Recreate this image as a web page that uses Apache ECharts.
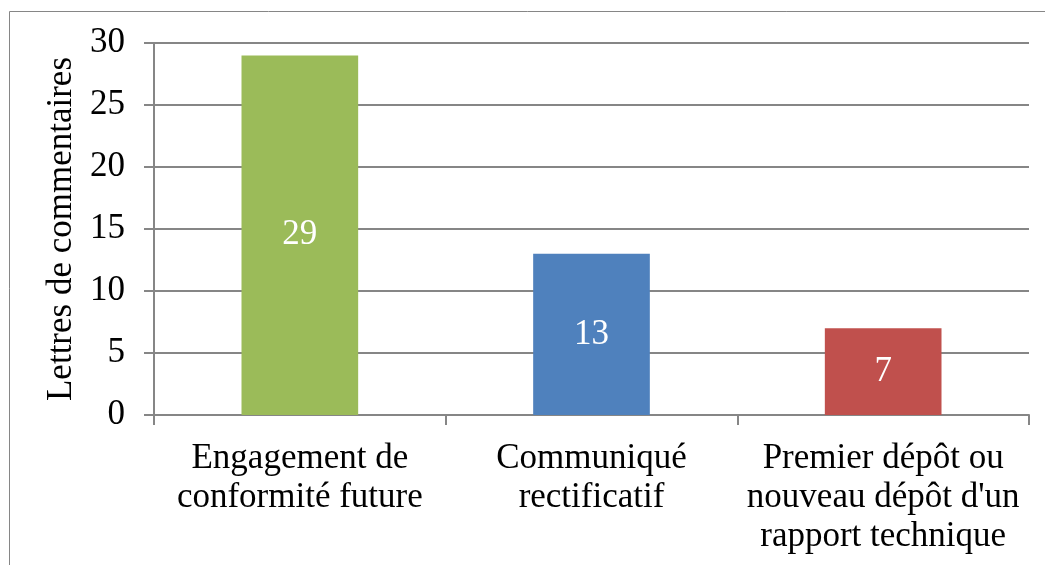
<!DOCTYPE html>
<html>
<head>
<meta charset="utf-8">
<script src="https://cdn.jsdelivr.net/npm/echarts@6/dist/echarts.min.js"></script>
<style>
  html, body { margin: 0; padding: 0; background: #fff; }
  #chart { width: 1045px; height: 565px; }
</style>
</head>
<body>
<div id="chart"></div>
<script>
// data
const categories = [
  'Engagement de\nconformité future',
  'Communiqué\nrectificatif',
  'Premier dépôt ou\nnouveau dépôt d\'un\nrapport technique'
]
const values = [29, 13, 7]
const barColors = ['#9BBB59', '#4F81BD', '#C0504D']
const yTicks = { min: 0, max: 30, interval: 5 }

const font = '"Liberation Serif", "Times New Roman", serif'
const gray = '#868686'

const chart = echarts.init(document.getElementById('chart'), null, {renderer: 'canvas'})

chart.setOption({
  animation: false,
  textStyle: {fontFamily: font},
  graphic: [{
    type: 'rect',
    shape: {x: 9.5, y: 11.5, width: 1100, height: 600},
    style: {fill: 'none', stroke: gray, lineWidth: 1},
    silent: true
  }],
  grid: {left: 154, right: 16, top: 43, bottom: 150},
  xAxis: {
    type: 'category',
    data: categories,
    axisLine: {lineStyle: {color: gray, width: 2}},
    axisTick: {show: true, length: 10, lineStyle: {color: gray, width: 2}},
    axisLabel: {
      color: '#000', fontSize: 35, fontFamily: font,
      lineHeight: 39, margin: 24, interval: 0
    }
  },
  yAxis: {
    type: 'value',
    min: yTicks.min,
    max: yTicks.max,
    interval: yTicks.interval,
    name: 'Lettres de commentaires',
    nameLocation: 'middle',
    nameGap: 69,
    nameTextStyle: {color: '#000', fontSize: 35, fontFamily: font},
    axisLine: {show: true, lineStyle: {color: gray, width: 2}},
    axisTick: {show: true, length: 10, lineStyle: {color: gray, width: 2}},
    axisLabel: {color: '#000', fontSize: 35, fontFamily: font, margin: 29},
    splitLine: {lineStyle: {color: gray, width: 2}}
  },
  series: [{
    type: 'bar',
    data: values.map((v, i) => ({value: v, itemStyle: {color: barColors[i]}})),
    barWidth: '40%',
    label: {
      show: true,
      position: 'inside',
      color: '#fff',
      fontSize: 35,
      fontFamily: font
    }
  }]
})
</script>
</body>
</html>
